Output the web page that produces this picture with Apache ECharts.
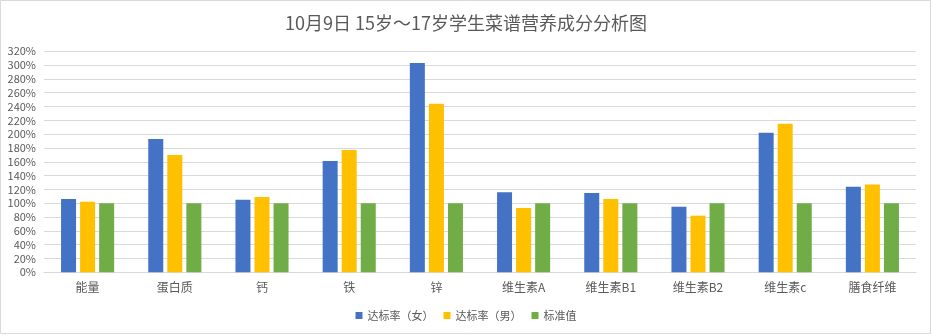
<!DOCTYPE html>
<html><head><meta charset="utf-8">
<script src="https://cdn.jsdelivr.net/npm/echarts@6/dist/echarts.min.js"></script>
<style>html,body{margin:0;padding:0;background:#fff}#c{width:932px;height:336px}</style>
</head><body><div id="c"></div>
<script>
const categories = ['能量','蛋白质','钙','铁','锌','维生素A','维生素B1','维生素B2','维生素c','膳食纤维'];
const female = [106,193,105,161,303,116,115,95,202,124];
const male = [102,170,109,177,244,93,106,82,215,127];
const standard = [100,100,100,100,100,100,100,100,100,100];
const seriesNames = ['达标率（女）','达标率（男）','标准值'];
const colors = ['#4472C4','#FFC000','#70AD47'];
const txt = '#595959';
const font = '"Noto Sans CJK SC", "Microsoft YaHei", sans-serif';
const chart = echarts.init(document.getElementById('c'));
chart.setOption({
  animation:false,
  textStyle:{fontFamily:font},
  graphic:[{type:'rect',shape:{x:0.5,y:0.5,width:930,height:333},style:{fill:'none',stroke:'#d9d9d9',lineWidth:1},silent:true}],
  title:{text:'10月9日 15岁～17岁学生菜谱营养成分分析图',left:'center',top:9,textStyle:{fontSize:18,fontWeight:'normal',color:txt,fontFamily:font}},
  legend:{bottom:10,left:'center',itemWidth:7,itemHeight:7,itemGap:10,icon:'rect',textStyle:{fontSize:11,color:txt,fontFamily:font},data:seriesNames},
  grid:{left:44,right:16,top:51.3,bottom:63.7,containLabel:false},
  xAxis:{type:'category',data:categories,axisTick:{show:false},axisLine:{lineStyle:{color:'#d9d9d9',width:1}},axisLabel:{color:txt,fontSize:12,margin:9,fontFamily:font}},
  yAxis:{type:'value',min:0,max:320,interval:20,axisLine:{show:false},axisTick:{show:false},splitLine:{lineStyle:{color:'#d9d9d9',width:1}},axisLabel:{formatter:'{value}%',color:txt,fontSize:11,margin:8,fontFamily:font}},
  series:[
    {name:seriesNames[0],type:'bar',data:female,itemStyle:{color:colors[0]},barWidth:15,barGap:'27%'},
    {name:seriesNames[1],type:'bar',data:male,itemStyle:{color:colors[1]},barWidth:15,barGap:'27%'},
    {name:seriesNames[2],type:'bar',data:standard,itemStyle:{color:colors[2]},barWidth:15,barGap:'27%'}
  ]
});
</script></body></html>
